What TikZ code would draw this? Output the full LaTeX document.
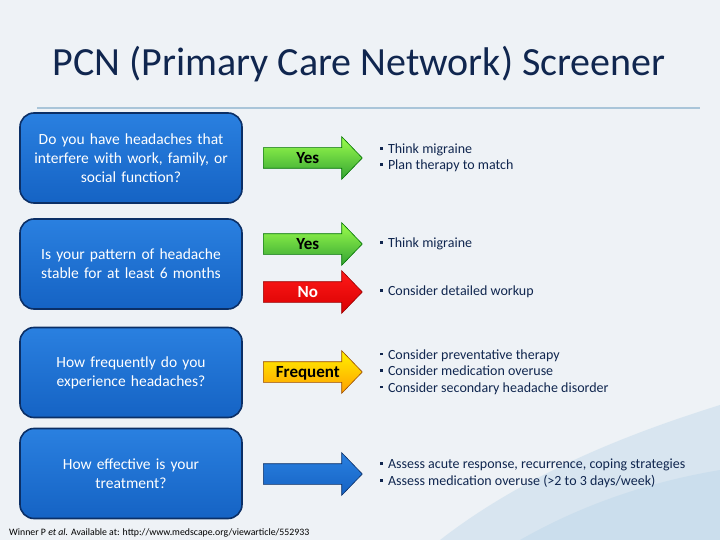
\documentclass[tikz,border=0pt]{standalone}
\usepackage{fontspec}
\setmainfont{Carlito}
\usepackage{xcolor}
\usetikzlibrary{shapes.arrows}

\definecolor{navy}{HTML}{10264F}
\definecolor{pagebg}{HTML}{EEF2F6}
\definecolor{rulecol}{HTML}{A9C5D9}
\definecolor{boxtop}{HTML}{2A80E0}
\definecolor{boxbot}{HTML}{1563C4}
\definecolor{boxedge}{HTML}{0B2F66}
\definecolor{swoosh}{HTML}{C3DAEB}
\newcommand{\sqb}{\raisebox{0.28em}{\rule{2.8pt}{2.8pt}}\hspace{5pt}}

\begin{document}
\begin{tikzpicture}[x=1pt, y=-1pt,
  qbox/.style={draw=boxedge, line width=1.6pt, rounded corners=14pt,
    top color=boxtop, bottom color=boxbot, minimum width=222pt,
    minimum height=90pt, text width=215pt, align=center, text=white,
    font=\fontsize{15.5}{19}\selectfont},
  arrowbox/.style={single arrow, single arrow head extend=11pt,
    single arrow tip angle=92, minimum height=99pt, anchor=tail,
    inner xsep=2pt, inner ysep=4.5pt, text height=11pt, text depth=0pt,
    line width=0.6pt, font=\fontsize{17}{18}\bfseries\selectfont},
  resbox/.style={anchor=west, align=left, text=navy, inner sep=0pt,
    font=\fontsize{14}{16.5}\selectfont},
  ]
  \fill[pagebg] (0,0) rectangle (720,540);
  \useasboundingbox (0,0) rectangle (720,540);
  \fill[swoosh, opacity=0.5] (440,540) .. controls (530,470) and (640,430) .. (720,405)
    -- (720,540) -- cycle;
  \fill[swoosh, opacity=0.6] (520,540) .. controls (590,500) and (660,480) .. (720,470)
    -- (720,540) -- cycle;

  \node[text=navy, font=\fontsize{40}{42}\selectfont] (title) at (359,64)
    {PCN (Primary Care Network) Screener};
  \draw[rulecol, line width=1.8pt] (37,108) -- (700,108);

  % questions
  \node[qbox] (q1) at (131,158) {Do you have headaches that\\interfere with work, family, or\\social function?};
  \node[qbox] (q2) at (131,264) {Is your pattern of headache\\stable for at least 6 months};
  \node[qbox] (q3) at (131,372.5) {How frequently do you\\experience headaches?};
  \node[qbox] (q4) at (131,473.5) {How effective is your\\treatment?};

  % answers
  \node[arrowbox, draw=green!45!black, top color=green!55!yellow!70, bottom color=green!55!black!80] (a1) at (263,158) {Yes};
  \node[arrowbox, draw=green!45!black, top color=green!55!yellow!70, bottom color=green!55!black!80] (a2) at (263,244) {Yes};
  \node[arrowbox, draw=red!60!black, top color=red!90!white, bottom color=red!85!black, text=white] (a3) at (263,292) {No};
  \node[arrowbox, draw=orange!60!black, top color=yellow!90!orange, bottom color=orange!75!yellow] (a4) at (263,372) {Frequent};
  \node[arrowbox, draw=boxedge, top color=boxtop, bottom color=boxbot] (a5) at (263,474) {};

  % results
  \node[resbox] (r1) at (380,158) {\sqb Think migraine\\\sqb Plan therapy to match};
  \node[resbox] (r2) at (380,244) {\sqb Think migraine};
  \node[resbox] (r3) at (380,292) {\sqb Consider detailed workup};
  \node[resbox] (r4) at (380,372) {\sqb Consider preventative therapy\\\sqb Consider medication overuse\\\sqb Consider secondary headache disorder};
  \node[resbox] (r5) at (380,473.5) {\sqb Assess acute response, recurrence, coping strategies\\\sqb Assess medication overuse (>2 to 3 days/week)};

  \node[anchor=base west, inner sep=0pt, font=\fontsize{9.8}{10}\selectfont] (cite) at (9,535)
    {Winner P \textit{et al.} Available at: http://www.medscape.org/viewarticle/552933};
\end{tikzpicture}
\end{document}
